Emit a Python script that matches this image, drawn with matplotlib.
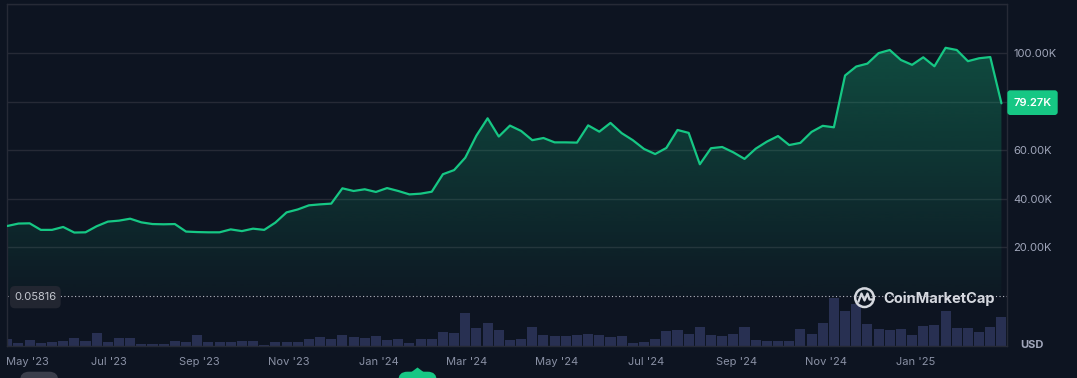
import matplotlib
matplotlib.use("Agg")
import matplotlib.pyplot as plt
import numpy as np
from matplotlib.patches import FancyBboxPatch, Circle, Polygon
from matplotlib.transforms import Affine2D
from matplotlib.lines import Line2D

# ---------------- data ----------------
prices_k = [28.8, 29.8, 29.9, 27.2, 27.2, 28.4, 26.1, 26.2, 28.7, 30.6,
            31.0, 31.8, 30.3, 29.6, 29.5, 29.6, 26.5, 26.3, 26.2, 26.2,
            27.4, 26.7, 27.7, 27.2, 30.2, 34.4, 35.6, 37.3, 37.7, 38.0,
            44.3, 43.2, 43.9, 42.8, 44.4, 43.2, 41.8, 42.1, 42.9, 50.1,
            51.8, 56.9, 66.0, 73.1, 65.6, 70.1, 67.9, 64.1, 65.0, 63.2,
            63.2, 63.1, 70.2, 67.6, 71.2, 67.0, 64.1, 60.5, 58.4, 60.9,
            68.3, 67.1, 54.2, 60.8, 61.3, 59.1, 56.4, 60.6, 63.5, 65.8,
            62.1, 63.0, 67.5, 70.0, 69.4, 90.7, 94.4, 95.6, 99.9, 101.2,
            97.1, 95.1, 98.2, 94.5, 102.1, 101.2, 96.6, 97.8, 98.3, 79.27]

volume_rel = [7, 2.7, 5.7, 3, 4, 5, 8, 5.3, 13, 4,
              8, 8, 2.3, 2, 2, 5.3, 4.3, 11, 4, 4,
              4, 5.3, 5.3, 1, 4, 4, 4, 6.7, 9, 6.7,
              11, 9, 8, 10, 5.7, 6.7, 3, 6.7, 6.7, 14,
              13, 33, 17.7, 23, 15.7, 5.7, 6.7, 18.7, 11, 10,
              10, 11, 12, 11, 9, 10, 3, 4, 6.7, 15,
              16, 12, 19, 11, 10, 12, 19, 5.7, 5, 5,
              5, 16.7, 12, 23, 48, 34.7, 41.7, 22, 17, 16,
              17, 11, 20, 21, 35, 18, 18, 14, 19, 29]

month_labels = ["May '23", "Jul '23", "Sep '23", "Nov '23", "Jan '24", "Mar '24",
                "May '24", "Jul '24", "Sep '24", "Nov '24", "Jan '25"]
month_tick_pos = [1.81, 9.13, 17.22, 25.22, 33.28, 41.13, 49.15, 57.16, 65.30, 73.29, 81.33]

price_ticks = [20, 40, 60, 80, 100, 120]
price_tick_labels = ["20.00K", "40.00K", "60.00K", "", "100.00K", ""]

last_price_label = "79.27K"
low_label = "0.05816"

# ---------------- style ----------------
BG = "#0d1421"
GRID = "#262a36"
GREEN = "#16c784"
VOL = "#283052"
YLAB = "#a1a7bb"
XLAB = "#8a91a5"

plt.rcParams["font.family"] = ["Inter", "DejaVu Sans"]

W, H = 1077, 378
fig = plt.figure(figsize=(W / 100, H / 100), dpi=100, facecolor=BG)
pxT = Affine2D().scale(1 / W, -1 / H).translate(0, 1) + fig.transFigure


def rect(x0, y0, x1, y1):
    return [x0 / W, 1 - y1 / H, (x1 - x0) / W, (y1 - y0) / H]


L, R, T, B = 7.3, 1007.3, 4.3, 346
STEP = 11.17
ZERO_PX = 296
xmax = (R - L) / STEP
k_per_px = 120 / (ZERO_PX - T)
ymin = -(B - ZERO_PX) * k_per_px

x = np.arange(len(prices_k))

# volume axes (behind)
axv = fig.add_axes(rect(L, T, R, B))
axv.set_zorder(0)
axv.bar(x, volume_rel, width=0.9, color=VOL, linewidth=0)
axv.set_xlim(0, xmax)
axv.set_ylim(0, B - T)
axv.axis("off")

# price axes
ax = fig.add_axes(rect(L, T, R, B))
ax.set_zorder(1)
ax.set_facecolor("none")

pmax = max(prices_k)
grad = np.zeros((256, 1, 4))
grad[..., 0:3] = matplotlib.colors.to_rgb(GREEN)
grad[..., 3] = np.linspace(0.03, 0.31, 256)[:, None]
im = ax.imshow(grad, extent=[0, x[-1], 0, pmax], origin="lower", aspect="auto",
               zorder=1, interpolation="bilinear")
verts = [(0, 0)] + list(zip(x, prices_k)) + [(x[-1], 0)]
poly = Polygon(verts, closed=True, facecolor="none", edgecolor="none",
               transform=ax.transData)
ax.add_patch(poly)
im.set_clip_path(poly)

ax.plot(x, prices_k, color=GREEN, lw=1.6, zorder=3, solid_joinstyle="round",
        solid_capstyle="round")
ax.axhline(0, color="#b8bcc6", lw=0.8, ls=(0, (1, 2.2)), zorder=2)

ax.set_xlim(0, xmax)
ax.set_ylim(ymin, 120)
ax.set_yticks(price_ticks)
ax.set_yticklabels(price_tick_labels)
ax.yaxis.tick_right()
ax.grid(axis="y", color=GRID, lw=1)
ax.set_axisbelow(True)
ax.tick_params(axis="y", length=0, pad=4.2, labelsize=8, labelcolor=YLAB)
ax.set_xticks(month_tick_pos)
ax.set_xticklabels(month_labels)
ax.tick_params(axis="x", length=0, pad=8, labelsize=8, labelcolor=XLAB)
for s in ax.spines.values():
    s.set_color(GRID)
    s.set_linewidth(1)

# ---------------- overlays ----------------
def rbox(x0, y0, x1, y1, color, r, z=6):
    p = FancyBboxPatch((x0, y0), x1 - x0, y1 - y0,
                       boxstyle=f"round,pad=0,rounding_size={r}",
                       transform=pxT, facecolor=color, edgecolor="none", zorder=z)
    fig.add_artist(p)
    return p

# low label box
rbox(10, 286, 60.7, 308.3, "#222631", 5)
fig.text(35.3 / W, 1 - 297.5 / H, low_label, ha="center", va="center",
         fontsize=8, color="#c5c8d0", zorder=7)

# last price badge
rbox(1007.3, 90.3, 1057.7, 115, GREEN, 3)
fig.text(1032.5 / W, 1 - 102.9 / H, last_price_label, ha="center", va="center",
         fontsize=8, color="white", fontweight="semibold", zorder=7)

# watermark
WM = "#d5d8df"
fig.add_artist(Circle((864.5, 297.7), 9.3, transform=pxT, fill=False,
                      edgecolor=WM, lw=1.8, zorder=6))
fig.add_artist(Line2D([858.5, 861.5, 864.5, 867.5, 869.5, 872],
                      [301.5, 293.5, 300.5, 293.5, 299.5, 299.5],
                      transform=pxT, color=WM, lw=1.6, zorder=6,
                      solid_joinstyle="round"))
fig.text(883 / W, 1 - 298.5 / H, "CoinMarketCap", ha="left", va="center",
         fontsize=10.5, fontweight="bold", color=WM, zorder=7)

# currency
fig.text(1020 / W, 1 - 345 / H, "USD", ha="left", va="center",
         fontsize=8, fontweight="bold", color=YLAB, zorder=7)

# partially visible controls at the bottom edge
rbox(20, 371.7, 58.3, 395, "#3a3e4b", 9)
rbox(398.3, 371.7, 436.7, 395, GREEN, 9)
fig.add_artist(Polygon([(411.5, 372), (417.5, 367.5), (423.5, 372)], closed=True,
                       transform=pxT, facecolor=GREEN, edgecolor="none", zorder=6))

fig.savefig("out.png", dpi=100, facecolor=BG)
